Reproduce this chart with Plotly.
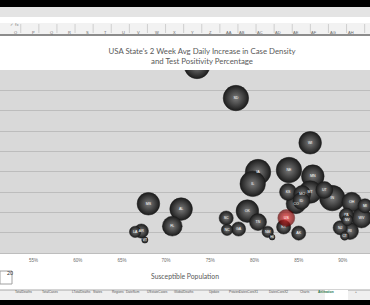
import plotly.graph_objects as go

# ---- data ----
states = ["ND", "SD", "WI", "IA", "NE", "MN", "IL", "MS", "AL", "FL", "LA", "AR", "VT",
          "SC", "NC", "GA", "OK", "KS", "MO", "MT", "UT", "IN", "CO", "ID", "OH", "MI",
          "TN", "KY", "NM", "HI", "AK", "PA", "NV", "WV", "NJ", "RI", "CT"]
susceptible = [73.5, 77.9, 86.3, 80.4, 83.9, 86.6, 79.8, 68.0, 71.7, 70.7, 66.5, 67.2, 67.6,
               76.8, 76.9, 78.2, 79.2, 83.8, 85.4, 86.3, 87.9, 88.8, 84.7, 85.3, 91.0, 92.5,
               80.4, 83.3, 81.5, 82.0, 85.0, 90.4, 90.5, 92.1, 89.7, 90.8, 90.2]
case_density = [46.0, 38.1, 27.1, 19.9, 20.4, 18.9, 17.0, 12.1, 10.8, 6.6, 5.2, 5.4, 3.2,
                8.6, 5.7, 5.9, 10.3, 15.0, 14.5, 15.0, 15.5, 13.5, 12.1, 12.8, 12.5, 11.6,
                7.6, 6.4, 5.2, 3.9, 4.9, 9.3, 8.1, 8.6, 6.2, 5.4, 4.2]
positivity = [20.0, 20.0, 15.8, 20.0, 20.0, 15.8, 20.0, 15.8, 15.8, 12.1, 4.0, 6.2, 1.2,
              6.2, 4.0, 6.2, 15.8, 8.9, 8.9, 15.8, 8.9, 20.0, 12.1, 8.9, 12.1, 6.2,
              8.9, 6.2, 4.0, 1.0, 6.2, 6.2, 4.0, 12.1, 6.2, 8.9, 2.2]
us_label = ["US"]
us_susceptible = [83.6]
us_density = [8.6]
us_positivity = [8.9]

x_ticks = [55, 60, 65, 70, 75, 80, 85, 90]
x_tick_labels = ["55%", "60%", "65%", "70%", "75%", "80%", "85%", "90%"]
columns = ["O", "P", "Q", "R", "S", "T", "U", "V", "W", "X", "Y", "Z",
           "AA", "AB", "AC", "AD", "AE", "AF", "AG", "AH"]
tabs = ["TotalDeaths", "TotalCases", "LTotalDeaths", "States", "Regions", "DateSum",
        "USstateCases", "GlobalDeaths", "Update", "Pstates", "DatesCoreX1", "DatesCoreX2",
        "Charts", "Animation", "+"]
tab_x = [13, 40, 70, 91, 110, 133, 157, 184, 214, 234, 260, 290, 312, 336, 359]

W, H = 370, 305
SIZEREF = 20.0 / 324.0

order = sorted(range(len(states)), key=lambda i: -positivity[i])

fig = go.Figure()
fig.add_trace(go.Scatter(
    x=[susceptible[i] for i in order],
    y=[case_density[i] for i in order],
    text=[states[i] for i in order],
    mode="markers+text",
    textposition="middle center",
    textfont=dict(size=3.6, color="#ffffff", family="Liberation Sans"),
    marker=dict(size=[positivity[i] for i in order], sizemode="area", sizeref=SIZEREF,
                color="#1c1c1c", gradient=dict(type="radial", color="#7a7a7a"),
                line=dict(width=0.5, color="#1a1a1a"), opacity=1),
    hoverinfo="skip", showlegend=False, cliponaxis=True,
))
fig.add_trace(go.Scatter(
    x=us_susceptible, y=us_density, text=us_label,
    mode="markers+text", textposition="middle center",
    textfont=dict(size=3.6, color="#ffffff", family="Liberation Sans"),
    marker=dict(size=us_positivity, sizemode="area", sizeref=SIZEREF,
                color="#6a0000", gradient=dict(type="radial", color="#ff3a3a"),
                line=dict(width=0.5, color="#500000")),
    hoverinfo="skip", showlegend=False,
))

def py2paper(py):
    return 1 - py / H

shapes = []
annotations = []
# white page areas above and below the plot area (paper background is black = top/bottom bars)
shapes.append(dict(type="rect", xref="paper", yref="paper", x0=-0.01, x1=1.01,
                   y0=py2paper(70), y1=py2paper(7), fillcolor="#ffffff",
                   line=dict(width=0), layer="below"))
shapes.append(dict(type="rect", xref="paper", yref="paper", x0=-0.01, x1=1.01,
                   y0=py2paper(300), y1=py2paper(253), fillcolor="#ffffff",
                   line=dict(width=0), layer="below"))
# top chrome
shapes.append(dict(type="rect", xref="paper", yref="paper", x0=-0.01, x1=1.01,
                   y0=py2paper(17), y1=py2paper(7), fillcolor="#e4e4e4",
                   line=dict(width=0), layer="above"))
shapes.append(dict(type="rect", xref="paper", yref="paper", x0=-0.01, x1=1.01,
                   y0=py2paper(34), y1=py2paper(23), fillcolor="#f2f2f2",
                   line=dict(width=0), layer="above"))
shapes.append(dict(type="line", xref="paper", yref="paper", x0=0, x1=1,
                   y0=py2paper(35), y1=py2paper(35), line=dict(color="#8c8c8c", width=2), layer="above"))
annotations.append(dict(text="✓  fx", xref="paper", yref="paper", x=8 / W, y=py2paper(20),
                        showarrow=False, font=dict(size=4, color="#777777"), xanchor="left"))
for k, c in enumerate(columns):
    cx = 11.7 + k * 18.1
    annotations.append(dict(text=c, xref="paper", yref="paper", x=cx / W, y=py2paper(28.5),
                            showarrow=False, font=dict(size=4, color="#666666", family="Liberation Sans")))
    sx = cx + 9.05
    shapes.append(dict(type="line", xref="paper", yref="paper", x0=sx / W, x1=sx / W,
                       y0=py2paper(33), y1=py2paper(24), line=dict(color="#cfcfcf", width=1), layer="above"))

# bottom chrome
shapes.append(dict(type="rect", xref="paper", yref="paper", x0=0, x1=12 / W,
                   y0=py2paper(284), y1=py2paper(271), fillcolor="#ffffff",
                   line=dict(color="#a0a0a0", width=1), layer="above"))
annotations.append(dict(text="20", xref="paper", yref="paper", x=5 / W, y=py2paper(278),
                        showarrow=False, font=dict(size=5.5, color="#333333", family="Liberation Sans")))
shapes.append(dict(type="rect", xref="paper", yref="paper", x0=-0.01, x1=1.01,
                   y0=py2paper(300), y1=py2paper(290), fillcolor="#efefef",
                   line=dict(width=0), layer="above"))
shapes.append(dict(type="line", xref="paper", yref="paper", x0=0, x1=1,
                   y0=py2paper(290), y1=py2paper(290), line=dict(color="#a8a8a8", width=1), layer="above"))
shapes.append(dict(type="rect", xref="paper", yref="paper", x0=325 / W, x1=348 / W,
                   y0=py2paper(300), y1=py2paper(290), fillcolor="#ffffff",
                   line=dict(width=0), layer="above"))
for t, tx in zip(tabs, tab_x):
    active = t == "Animation"
    annotations.append(dict(text=("<b>%s</b>" % t) if active else t, xref="paper", yref="paper",
                            x=tx / W, y=py2paper(295.5), showarrow=False,
                            font=dict(size=3.2, color="#217346" if active else "#555555",
                                      family="Liberation Sans")))

fig.update_layout(
    width=W, height=H,
    margin=dict(l=0, r=0, t=0, b=0),
    paper_bgcolor="#000000",
    plot_bgcolor="#d9d9d9",
    title=dict(text="USA State's 2 Week Avg Daily Increase in Case Density<br>and Test Positivity Percentage",
               x=202 / W, xanchor="center", y=py2paper(54), yanchor="middle",
               font=dict(size=7.8, color="#595959", family="Lato")),
    xaxis=dict(domain=[0, 1], range=[51.21, 93.07], tickvals=x_ticks, ticktext=x_tick_labels,
               showgrid=False, zeroline=False, showline=False, ticks="",
               ticklabelstandoff=3,
               tickfont=dict(size=4.5, color="#6a6a6a", family="Liberation Sans"),
               title=dict(text="Susceptible Population", standoff=12,
                          font=dict(size=6.8, color="#595959", family="Lato"))),
    yaxis=dict(domain=[py2paper(253), py2paper(70)], range=[0, 45], dtick=5,
               showticklabels=False, showgrid=True, gridcolor="#bdbdbd", gridwidth=1,
               zeroline=True, zerolinecolor="#bdbdbd", zerolinewidth=1, ticks=""),
    shapes=shapes,
    annotations=annotations,
)

fig.write_html("out.html")
